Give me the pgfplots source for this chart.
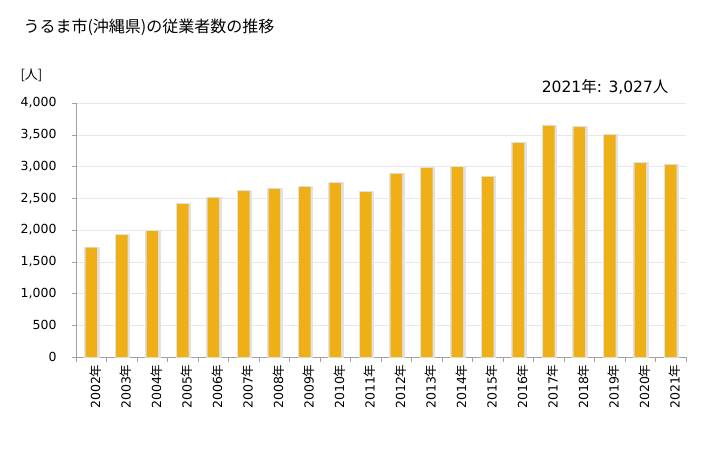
\documentclass[border=0pt]{standalone}
\usepackage{pgfplots}
\pgfplotsset{compat=1.18}
\usepackage{fontspec}
\setmainfont{DejaVu Sans}
\newfontfamily\cjk{Noto Sans CJK JP}
\definecolor{barfill}{HTML}{EEB016}
\definecolor{gridgray}{HTML}{E8E8E8}
\definecolor{shadow}{HTML}{E2E2E2}
\definecolor{axisgray}{HTML}{A0A0A0}
\newcommand{\yr}[1]{#1{\cjk 年}}

\pgfplotstableread{
x  y
0  1721
1  1921
2  1984
3  2409
4  2504
5  2614
6  2646
7  2677
8  2740
9  2598
10 2882
11 2976
12 2992
13 2835
14 3370
15 3638
16 3622
17 3496
18 3055
19 3027
}\workers

\begin{document}
\begin{tikzpicture}
\path[use as bounding box] (0pt,0pt) rectangle (728pt,450pt);
\node[anchor=west,font=\cjk\fontsize{16}{16}\selectfont] at (20pt,423pt) {うるま市(沖縄県)の従業者数の推移};
\node[anchor=west,font=\cjk\fontsize{13}{13}\selectfont] at (17pt,375pt) {[人]};
\node[anchor=east,font=\fontsize{15.5}{15.5}\selectfont] at (672pt,363pt) {2021{\cjk 年}: 3,027{\cjk 人}};
\begin{axis}[
    at={(76pt,93pt)}, anchor=south west,
    scale only axis,
    width=610pt, height=254pt,
    xmin=-0.5, xmax=19.5,
    ymin=0, ymax=4000,
    ytick={0,500,...,4000},
    xtick={0,...,19},
    xticklabels={\yr{2002},\yr{2003},\yr{2004},\yr{2005},\yr{2006},\yr{2007},\yr{2008},\yr{2009},\yr{2010},\yr{2011},\yr{2012},\yr{2013},\yr{2014},\yr{2015},\yr{2016},\yr{2017},\yr{2018},\yr{2019},\yr{2020},\yr{2021}},
    minor xtick={-0.5,0.5,...,19.5},
    major x tick style={draw=none},
    minor x tick style={draw=axisgray},
    minor tick length=5pt,
    major tick length=4pt,
    tick align=outside,
    axis x line*=bottom, axis y line*=left,
    axis line style={draw=axisgray, -},
    y tick style={draw=axisgray},
    ymajorgrids, grid style={gridgray},
    tick label style={font=\fontsize{12.5}{12.5}\selectfont},
    xticklabel style={rotate=90, anchor=east, yshift=-4pt},
    yticklabel style={xshift=-12pt},
    /pgf/number format/.cd, 1000 sep={,}, assume math mode=true,
]
% shadow behind each bar
\addplot[ybar, bar width=14pt, bar shift=0.8pt, fill=shadow, draw=shadow, line width=1.5pt]
  table[x=x, y=y] {\workers};
% the bars
\addplot[ybar, bar width=11.5pt, fill=barfill, draw=none]
  table[x=x, y=y] {\workers};
\end{axis}
\end{tikzpicture}
\end{document}
